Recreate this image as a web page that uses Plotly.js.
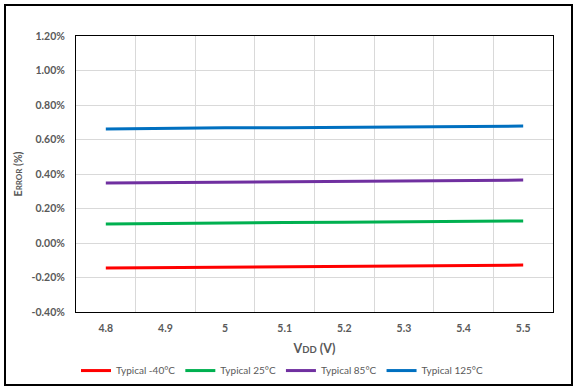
<!DOCTYPE html>
<html><head><meta charset="utf-8">
<script src="https://cdn.plot.ly/plotly-3.0.1.min.js"></script>
<style>
html,body{margin:0;padding:0;background:#fff;}
#wrap{position:relative;width:573px;height:387px;}
#frame{position:absolute;left:4px;top:4px;width:565px;height:378px;border:2px solid #000;pointer-events:none;z-index:10;}
#chart{position:absolute;left:0;top:0;width:573px;height:387px;}
</style></head>
<body><div id="wrap"><div id="chart"></div><div id="frame"></div></div>
<script>
const vdd = ['4.8','4.9','5','5.1','5.2','5.3','5.4','5.5'];
const tMinus40 = [-0.145,-0.142,-0.140,-0.138,-0.136,-0.134,-0.131,-0.128];
const t25 = [0.110,0.114,0.117,0.119,0.120,0.122,0.125,0.128];
const t85 = [0.348,0.350,0.352,0.354,0.357,0.360,0.362,0.365];
const t125 = [0.661,0.665,0.668,0.668,0.670,0.672,0.675,0.678];
const names = ['Typical -40°C','Typical 25°C','Typical 85°C','Typical 125°C'];
const colors = ['#FF0000','#00B050','#7030A0','#0070C0'];
const series = [tMinus40,t25,t85,t125];
const yTicks = [-0.4,-0.2,0,0.2,0.4,0.6,0.8,1.0,1.2];
const yTickText = ['-0.40%','-0.20%','0.00%','0.20%','0.40%','0.60%','0.80%','1.00%','1.20%'];

const traces = series.map((s,i)=>({
  x: vdd, y: s, type:'scatter', mode:'lines', name:names[i],
  line:{color:colors[i], width:3}
}));
const F = 'Lato, "Open Sans", sans-serif';
Plotly.newPlot('chart', traces, {
  width:573, height:387,
  margin:{l:76,r:20,t:36,b:75, autoexpand:false},
  paper_bgcolor:'#fff', plot_bgcolor:'#fff',
  font:{family:F, color:'#595959'},
  showlegend:true,
  legend:{orientation:'h', x:0.0, xanchor:'left', xref:'paper', y:0.005, yanchor:'bottom', yref:'container',
    font:{size:10, color:'#595959', family:F}, itemwidth:30, tracegroupgap:0},
  xaxis:{type:'category', range:[-0.5,7.5], tickson:'boundaries', automargin:false,
    showgrid:true, gridcolor:'#D9D9D9', gridwidth:1,
    showline:true, linecolor:'#000', linewidth:1, mirror:true,
    ticks:'', ticklabelstandoff:6, tickfont:{size:10.5, color:'#595959', family:F, weight:'bold'},
    title:{text:'V<span style="font-size:9.5px">DD</span> (V)', font:{size:12.5, color:'#595959', family:F, weight:'bold'}, standoff:14},
    zeroline:false, fixedrange:true},
  yaxis:{range:[-0.4,1.2], tickvals:yTicks, ticktext:yTickText, automargin:false,
    showgrid:true, gridcolor:'#D9D9D9', gridwidth:1,
    showline:true, linecolor:'#000', linewidth:1, mirror:true,
    zeroline:false, ticks:'', ticklen:0, ticklabelstandoff:8,
    tickfont:{size:10.5, color:'#595959', family:F, weight:'bold'},
    title:{text:'E<span style="font-size:8px">RROR</span> (%)', font:{size:10.5, color:'#595959', family:F, weight:'bold'}, standoff:6},
    fixedrange:true}
}, {displayModeBar:false, staticPlot:true});
</script></body></html>
